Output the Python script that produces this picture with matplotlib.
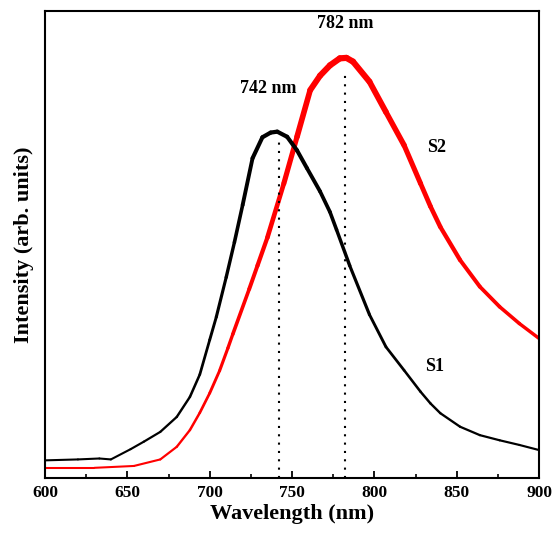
import matplotlib
matplotlib.use("Agg")
import matplotlib.pyplot as plt
import numpy as np
from matplotlib.collections import LineCollection
from matplotlib.ticker import MultipleLocator

# Wavelength (nm) and intensities (arb. units)
wl_s1 = [600, 620, 633, 640, 652, 660, 670, 680, 688, 694, 700, 704, 710, 715, 720, 726,
         732, 737, 741, 747, 753, 759, 767, 773, 777, 785, 797, 807, 818, 828, 834, 840,
         852, 864, 876, 888, 900]
s1 = [38, 40, 42, 40, 62, 78, 99, 131, 174, 222, 296, 345, 430, 505, 585, 685,
      730, 740, 742, 731, 702, 664, 614, 570, 532, 455, 350, 281, 231, 185, 160, 139,
      110, 92, 81, 71, 60]

wl_s2 = [600, 630, 654, 670, 680, 688, 694, 700, 706, 711, 714, 724, 729, 735, 745, 753,
         761, 767, 773, 779, 783, 787, 797, 807, 818, 828, 834, 840, 852, 864, 876, 888, 900]
s2 = [22, 22, 26, 40, 67, 103, 140, 182, 230, 278, 308, 405, 455, 515, 631, 731,
      831, 862, 884, 899, 900, 892, 849, 784, 713, 631, 582, 538, 467, 410, 367, 331, 299]

peaks = [742, 782]
peak_tops = [720, 863]
peak_labels = ["742 nm", "782 nm"]
label_pos = [(735.7, 834), (782, 974)]
series_labels = ["S1", "S2"]
series_label_pos = [(836.8, 238), (837.5, 707)]

plt.rcParams['font.family'] = ['Liberation Serif', 'DejaVu Serif']
plt.rcParams['font.weight'] = 'bold'

fig = plt.figure(figsize=(5.54, 5.33), dpi=100)
ax = fig.add_axes([0.0812, 0.103, 0.892, 0.876])


def noisy_line(x, y, color, base, gain, zorder):
    x = np.asarray(x, float)
    y = np.asarray(y, float)
    pts = np.column_stack([x, y]).reshape(-1, 1, 2)
    segs = np.concatenate([pts[:-1], pts[1:]], axis=1)
    mid = (y[:-1] + y[1:]) / 2.0
    widths = base + gain * mid / 1000.0
    lc = LineCollection(segs, colors=color, linewidths=widths, capstyle='round',
                        joinstyle='round', zorder=zorder)
    ax.add_collection(lc)


noisy_line(wl_s1, s1, 'black', 1.4, 2.2, 3)
noisy_line(wl_s2, s2, '#ff0000', 1.4, 3.4, 2)

for p, t in zip(peaks, peak_tops):
    ax.vlines(p, 0, t, colors='black', linestyles=(0, (1, 3)), lw=1.5, zorder=4)
for txt, (x, y) in zip(peak_labels, label_pos):
    ax.text(x, y, txt, ha='center', va='center', fontsize=13, fontweight='bold')
for txt, (x, y) in zip(series_labels, series_label_pos):
    ax.text(x, y, txt, ha='center', va='center', fontsize=13, fontweight='bold')

ax.set_xlim(600, 900)
ax.set_ylim(0, 1000)
ax.xaxis.set_major_locator(MultipleLocator(50))
ax.xaxis.set_minor_locator(MultipleLocator(25))
ax.set_yticks([])
ax.tick_params(axis='x', which='major', direction='in', length=5, width=1.3, labelsize=12.5, pad=5)
ax.tick_params(axis='x', which='minor', direction='in', length=3, width=1.2)
for lab in ax.get_xticklabels():
    lab.set_fontweight('bold')
for s in ax.spines.values():
    s.set_linewidth(1.5)

ax.set_xlabel('Wavelength (nm)', fontsize=16, fontweight='bold', labelpad=2)
ax.set_ylabel('Intensity (arb. units)', fontsize=16, fontweight='bold', labelpad=8)

fig.savefig('out.png', dpi=100)
